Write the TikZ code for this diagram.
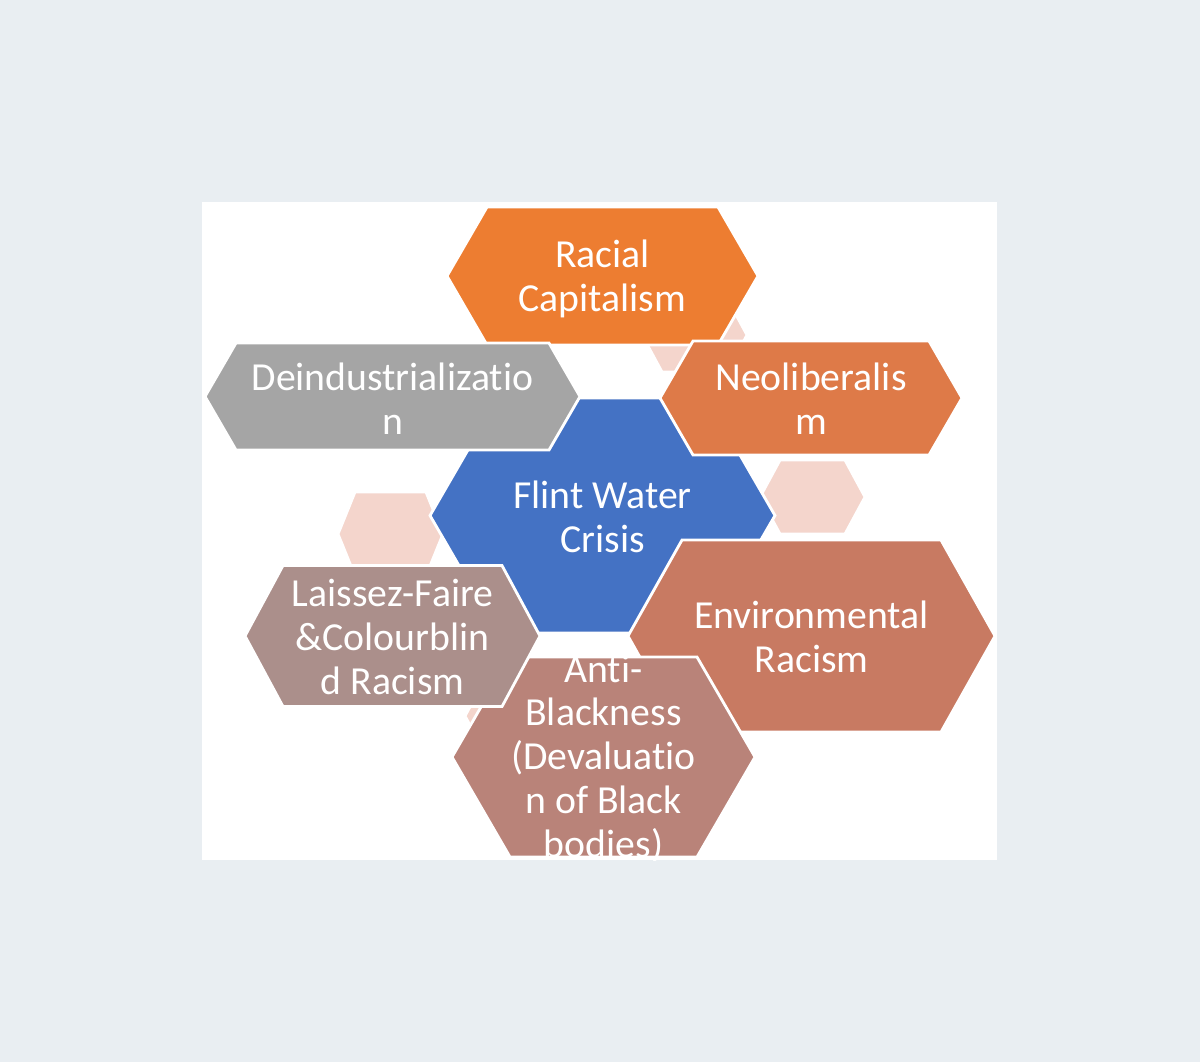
\documentclass[tikz,border=0pt]{standalone}
\usepackage{fontspec}
\setmainfont{Carlito}[RawFeature=-liga]

\definecolor{pagebg}{HTML}{E9EEF2}
\definecolor{racialorange}{HTML}{ED7D31}
\definecolor{deindgray}{HTML}{A5A5A5}
\definecolor{neoorange}{HTML}{DE7A48}
\definecolor{flintblue}{HTML}{4472C4}
\definecolor{envbrown}{HTML}{C87A62}
\definecolor{antirose}{HTML}{B98379}
\definecolor{laissezmauve}{HTML}{AB8F8B}
\definecolor{spacerpink}{HTML}{F4D5CC}

% hexagon: centre x, centre y, half width, half height, inset, colour
\newcommand{\hexcell}[6]{%
  \filldraw[fill=#6, draw=white, line width=0.8pt]
    (#1-#3,#2) -- (#1-#3+#5,#2-#4) -- (#1+#3-#5,#2-#4) -- (#1+#3,#2)
    -- (#1+#3-#5,#2+#4) -- (#1-#3+#5,#2+#4) -- cycle;}

\begin{document}
\begin{tikzpicture}[x=0.01cm, y=-0.01cm,
  hextext/.style={text=white, align=center, inner sep=0pt,
                  font=\fontsize{11.3}{12.5}\selectfont},
]
  \useasboundingbox (0,0) rectangle (1200,1062);
  \fill[pagebg] (0,0) rectangle (1200,1062);
  \fill[white] (202,202) rectangle (997,860);

  \begin{scope}
    \clip (202,202) rectangle (997,860);

    % Spacers
    \hexcell{694.5}{335}{52.5}{37}{20}{spacerpink}
    \hexcell{812.5}{497}{52.5}{37}{20}{spacerpink}
    \hexcell{390.5}{534}{52.5}{42}{17}{spacerpink}
    \hexcell{517}{716}{52}{37}{20}{spacerpink}

    % Core
    \hexcell{602.5}{515.5}{172.5}{117.5}{68}{flintblue}

    % Ring
    \hexcell{602.5}{276}{155.5}{69}{40}{racialorange}
    \hexcell{392.5}{396.5}{187.5}{53.5}{31}{deindgray}
    \hexcell{811}{398}{151}{57}{33}{neoorange}
    \hexcell{811.5}{636}{183.5}{96}{54}{envbrown}
    \hexcell{603.5}{757}{151.5}{100}{58}{antirose}
    \hexcell{392.5}{636}{147.5}{70.5}{38}{laissezmauve}

    % Labels
    \node[hextext] (flint) at (602.5,517) {Flint Water\\Crisis};
    \node[hextext] (racial) at (602.5,279) {Racial\\Capitalism};
    \node[hextext] (deind) at (392.5,399) {Deindustrializatio\\n};
    \node[hextext] (neolib) at (811,399) {Neoliberalis\\m};
    \node[hextext] (envrac) at (811.5,637) {Environmental\\Racism};
    \node[hextext] (antiblack) at (603.5,759) {Anti-\\Blackness\\(Devaluatio\\n of Black\\bodies)};
    \node[hextext] (laissez) at (392.5,637) {Laissez-Faire\\\&Colourblin\\d Racism};
  \end{scope}
\end{tikzpicture}
\end{document}
